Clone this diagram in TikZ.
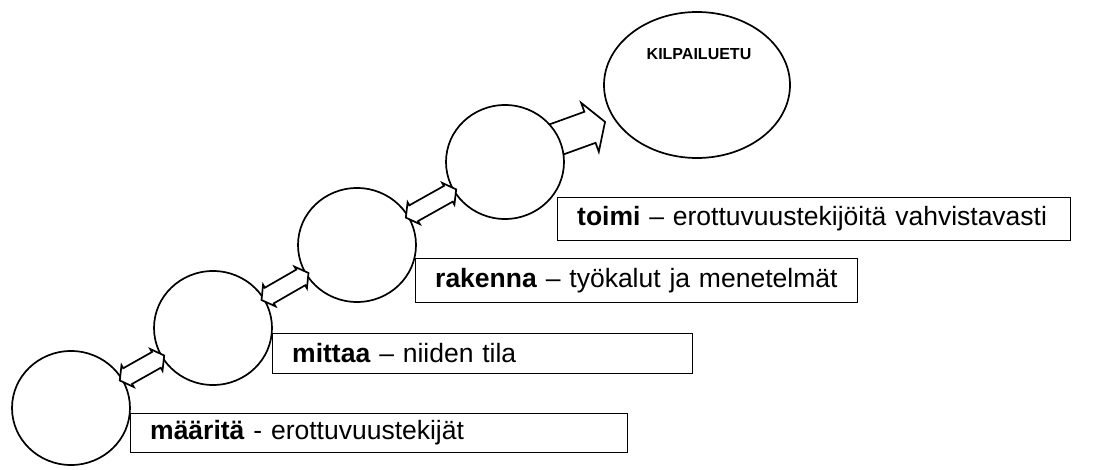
\documentclass[tikz,border=0pt]{standalone}
\usepackage{fontspec}
\setmainfont{Liberation Sans}
\usetikzlibrary{shapes.geometric,calc,backgrounds}
\newcommand{\linkarrow}[2]{%
  \path let \p1=($(#2)-(#1)$), \n1={atan2(\y1,\x1)}, \n2={veclen(\x1,\y1)/2-56} in
    \pgfextra{\xdef\linkangle{\n1}\xdef\linkhalf{\n2}};
  \begin{scope}[shift={($(#1)!0.5!(#2)$)}, rotate=\linkangle]
    \draw[arrowshape] (-\linkhalf,0) -- ({-\linkhalf+9},12.5) -- ({-\linkhalf+9},9)
      -- ({\linkhalf-9},9) -- ({\linkhalf-9},12.5) -- (\linkhalf,0)
      -- ({\linkhalf-9},-12.5) -- ({\linkhalf-9},-9) -- ({-\linkhalf+9},-9)
      -- ({-\linkhalf+9},-12.5) -- cycle;
  \end{scope}}
\begin{document}
\begin{tikzpicture}[x=1pt,y=-1pt,
  line width=1.7pt,
  circ/.style={draw, ellipse, fill=white, minimum width=118pt, minimum height=114pt, inner sep=0pt},
  goal/.style={draw, ellipse, fill=white, minimum width=186pt, minimum height=146pt, inner sep=0pt},
  stepbox/.style={draw, fill=white, rectangle, anchor=north west, inner xsep=20pt, inner ysep=0pt,
    align=left, font=\fontsize{26.5}{31}\selectfont},
  arrowshape/.style={draw, fill=white, line join=miter, line width=1.7pt},
  goaltext/.style={font=\bfseries\fontsize{16}{19}\selectfont, inner sep=0pt}
]
\useasboundingbox (0,0) rectangle (1100,470);

\node[circ] (c1) at (71,408) {};
\node[circ] (c2) at (213,328) {};
\node[circ] (c3) at (357,245) {};
\node[circ] (c4) at (505,162) {};
\node[goal] (goal) at (697,85) {};
\node[goaltext] (goaltitle) at (699,54) {KILPAILUETU};

\begin{pgfonlayer}{background}
  \path (c4) -- (goal) coordinate[pos=1] (gb);
  \path let \p1=($(goal)-(c4)$), \n1={atan2(\y1,\x1)} in \pgfextra{\xdef\bigangle{\n1}};
  \coordinate (tip) at ($(gb)!9pt!(c4)$);
  \begin{scope}[shift={(tip)}, rotate={\bigangle-2}]
    \draw[arrowshape] (0,0) -- (-16,-26) -- (-16,-16.5) -- (-72,-16.5) -- (-72,16.5)
      -- (-16,16.5) -- (-16,26) -- cycle;
  \end{scope}
\end{pgfonlayer}

\linkarrow{c1}{c2}
\linkarrow{c2}{c3}
\linkarrow{c3}{c4}

\node[stepbox, text width=457pt, minimum height=39pt] (b1) at (130,413)
  {\mbox{\textbf{määritä} - erottuvuustekijät}};
\node[stepbox, text width=380pt, minimum height=40pt] (b2) at (272,333)
  {\mbox{\textbf{mittaa} – niiden tila}};
\node[stepbox, text width=402pt, minimum height=44pt] (b3) at (415,258)
  {\mbox{\textbf{rakenna} – työkalut ja menetelmät}};
\node[stepbox, text width=473pt, minimum height=43pt] (b4) at (557,197)
  {\mbox{\textbf{toimi} – erottuvuustekijöitä vahvistavasti}};
\end{tikzpicture}
\end{document}
